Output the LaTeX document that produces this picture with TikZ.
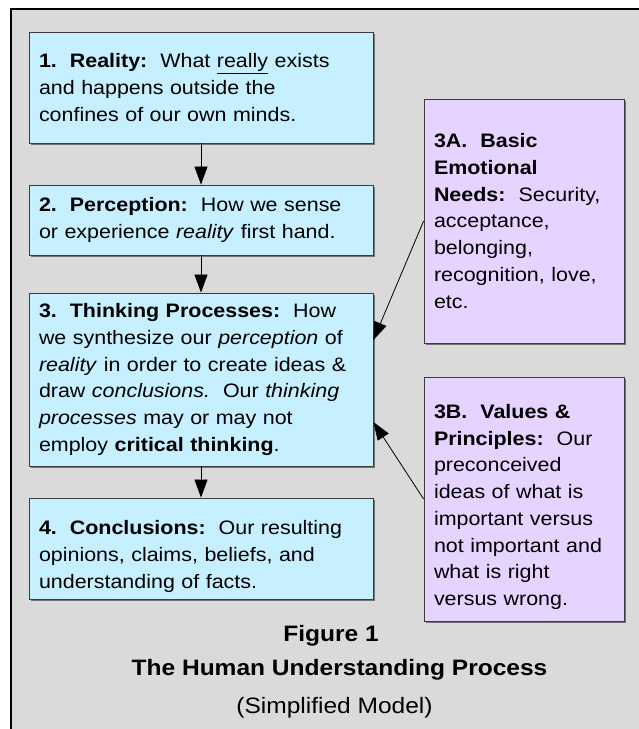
\documentclass[tikz,border=0pt]{standalone}
\usepackage{fontspec}
\setmainfont[FakeStretch=1.1]{Liberation Sans}
\usetikzlibrary{arrows.meta,shadows}

\definecolor{panelgray}{HTML}{DADADA}
\definecolor{stagefill}{HTML}{C6F0FF}
\definecolor{factorfill}{HTML}{E7D3FF}
\definecolor{edgegray}{HTML}{3C3C3C}

% taller first line, pushes a centred block down a little
\newcommand{\toplift}{\rule{0pt}{30pt}}

\begin{document}
\begin{tikzpicture}[x=1pt,y=1pt,
        stage/.style={draw=edgegray, line width=0.8pt, fill=stagefill,
            text width=324pt, inner xsep=10pt, inner ysep=0pt, align=left,
            font=\fontsize{19.5}{26.7}\selectfont,
            drop shadow={shadow xshift=2pt, shadow yshift=-2pt, fill=black!55, opacity=1}},
        factor/.style={stage, fill=factorfill, text width=180pt},
        flow/.style={-{Triangle[length=18pt,width=13pt]}, line width=0.8pt},
        caption/.style={anchor=base, font=\fontsize{22.3}{26}\selectfont}]
    \useasboundingbox (0,0) rectangle (639,729);
    \fill[white] (0,0) rectangle (639,729);
    % grey panel, runs off the right and bottom edges
    \draw[line width=2pt, fill=panelgray] (11,720) rectangle (670,-30);

    % main chain
    \node[stage, minimum height=111pt] (reality) at (201,641.5)
        {\textbf{1.\ \ Reality:}\ \ What \underline{really} exists\\
         and happens outside the\\
         confines of our own minds.};
    \node[stage, minimum height=70pt] (perception) at (201,509)
        {\textbf{2.\ \ Perception:}\ \ How we sense\\
         or experience \textit{reality} first hand.};
    \node[stage, minimum height=173pt] (thinking) at (201,349.5)
        {\textbf{3.\ \ Thinking Processes:}\ \ How\\
         we synthesize our \textit{perception} of\\
         \textit{reality} in order to create ideas \&\\
         draw \textit{conclusions.}\ \ Our \textit{thinking}\\
         \textit{processes} may or may not\\
         employ \textbf{critical thinking}.};
    \node[stage, minimum height=101pt] (conclusions) at (201,180.5)
        {\toplift\textbf{4.\ \ Conclusions:}\ \ Our resulting\\
         opinions, claims, beliefs, and\\
         understanding of facts.};

    % influences
    \node[factor, minimum height=244pt] (needs) at (524,508)
        {\textbf{3A.\ \ Basic}\\
         \textbf{Emotional}\\
         \textbf{Needs:}\ \ Security,\\
         acceptance,\\
         belonging,\\
         recognition, love,\\
         etc.};
    \node[factor, minimum height=244pt] (values) at (524,230)
        {\toplift\textbf{3B.\ \ Values \&}\\
         \textbf{Principles:}\ \ Our\\
         preconceived\\
         ideas of what is\\
         important versus\\
         not important and\\
         what is right\\
         versus wrong.};

    \draw[flow] (reality) -- (perception);
    \draw[flow] (perception) -- (thinking);
    \draw[flow] (thinking) -- (conclusions);
    \draw[flow] (needs.west) -- ([yshift=39.5pt]thinking.east);
    \draw[flow] (values.west) -- ([yshift=-42.5pt]thinking.east);

    % caption
    \node[caption] (fignum) at (331,87) {\textbf{Figure 1}};
    \node[caption] (figtitle) at (339.5,53) {\textbf{The Human Understanding Process}};
    \node[caption] (figsub) at (334.5,16) {(Simplified Model)};
\end{tikzpicture}
\end{document}
